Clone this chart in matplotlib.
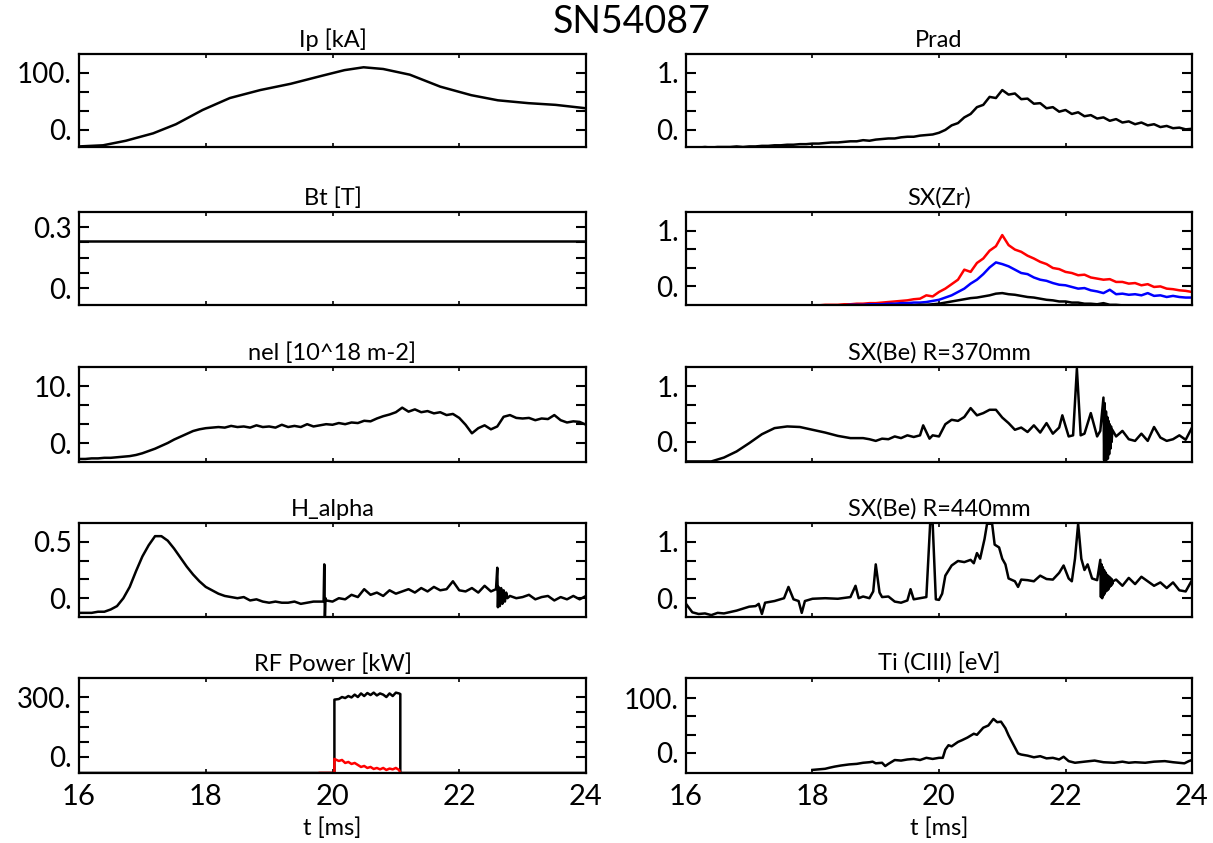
import numpy as np
import matplotlib.pyplot as plt

plt.rcParams['font.family'] = ['Lato', 'DejaVu Sans']

# common 0.1 ms sampling grid
t_grid = np.round(np.arange(16.0, 24.01, 0.1), 1)

## Ip [kA]
ip_t = [16.0, 16.38, 16.74, 17.17, 17.53, 17.95, 18.38, 18.86, 19.34, 19.83,
        20.19, 20.49, 20.80, 21.22, 21.70, 22.19, 22.61, 23.09, 23.52, 24.0]
ip_v = [-29, -27, -19, -6, 10, 35, 56, 70, 81, 95,
        105, 110, 107, 97, 76, 61, 52, 47, 44, 38]

## Bt [T]
bt_t = [16.0, 24.0]
bt_v = [0.231, 0.231]

## nel [10^18 m-2]
nel_v = [-2.8, -2.8, -2.7, -2.7, -2.6, -2.6, -2.5, -2.4, -2.3, -2.1,
         -1.8, -1.4, -1.0, -0.5, 0.0, 0.6, 1.1, 1.6, 2.1, 2.4,
         2.6, 2.7, 2.8, 2.7, 3.0, 2.8, 2.9, 2.7, 3.1, 2.8,
         2.9, 2.7, 3.2, 2.8, 3.0, 2.8, 3.3, 2.9, 3.1, 3.3,
         3.2, 3.5, 3.3, 3.6, 3.5, 3.9, 3.8, 4.3, 4.7, 5.0,
         5.4, 6.2, 5.5, 5.9, 5.4, 5.6, 5.2, 5.4, 4.9, 5.1,
         4.4, 3.2, 1.7, 2.6, 3.1, 2.4, 2.9, 4.6, 4.9, 4.4,
         4.3, 4.4, 4.0, 4.3, 4.2, 4.9, 4.0, 3.6, 3.8, 3.7,
         3.2]

## H_alpha
ha_t = [16.0, 16.1, 16.2, 16.3, 16.4, 16.5, 16.6, 16.7, 16.8, 16.9,
        17.0, 17.1, 17.2, 17.3, 17.4, 17.5, 17.6, 17.7, 17.8, 17.9,
        18.0, 18.1, 18.2, 18.3, 18.4, 18.5, 18.6, 18.7, 18.8, 18.9,
        19.0, 19.1, 19.2, 19.3, 19.4, 19.5, 19.6, 19.7, 19.8, 19.86,
        19.87, 19.88, 19.89, 19.9, 20.0, 20.1, 20.2, 20.3, 20.4, 20.5,
        20.6, 20.7, 20.8, 20.9, 21.0, 21.1, 21.2, 21.3, 21.4, 21.5,
        21.6, 21.7, 21.8, 21.9, 22.0, 22.1, 22.2, 22.3, 22.4, 22.5,
        22.58, 22.6, 22.61, 22.62, 22.64, 22.66, 22.68, 22.70, 22.72, 22.74,
        22.76, 22.8, 22.9, 23.0, 23.1, 23.2, 23.3, 23.4, 23.5, 23.6,
        23.7, 23.8, 23.9, 24.0]
ha_v = [-0.13, -0.13, -0.13, -0.12, -0.12, -0.10, -0.07, 0.00, 0.10, 0.24,
        0.37, 0.47, 0.55, 0.55, 0.51, 0.44, 0.36, 0.28, 0.21, 0.15,
        0.10, 0.07, 0.04, 0.02, 0.01, 0.00, 0.01, -0.02, -0.01, -0.03,
        -0.04, -0.03, -0.04, -0.04, -0.03, -0.05, -0.04, -0.03, -0.03, -0.03,
        0.30, -0.17, 0.00, -0.02, -0.03, 0.00, -0.01, 0.03, 0.01, 0.08,
        0.03, 0.05, 0.02, 0.07, 0.04, 0.06, 0.08, 0.05, 0.09, 0.06,
        0.10, 0.07, 0.08, 0.15, 0.07, 0.06, 0.09, 0.05, 0.11, 0.06,
        0.08, 0.27, -0.08, 0.10, -0.07, 0.09, -0.05, 0.07, -0.03, 0.05,
        0.00, 0.02, 0.00, 0.01, 0.03, -0.01, 0.01, 0.02, -0.02, 0.01,
        -0.01, 0.02, -0.01, 0.02]

## RF Power [kW]
rf_t = [16.0, 20.03, 20.03, 20.1, 20.15, 20.2, 20.25, 20.3, 20.35, 20.4,
        20.45, 20.5, 20.55, 20.6, 20.65, 20.7, 20.75, 20.8, 20.85, 20.9,
        20.95, 21.0, 21.05, 21.07, 21.07, 24.0]
rf_v = [-80, -80, 287, 290, 300, 295, 305, 298, 312, 300,
        318, 305, 320, 310, 322, 308, 318, 312, 300, 318,
        305, 322, 318, 315, -80, -80]
rf_red_t = [19.8, 20.03, 20.03, 20.1, 20.15, 20.2, 20.25, 20.3, 20.35, 20.4,
            20.45, 20.5, 20.55, 20.6, 20.65, 20.7, 20.75, 20.8, 20.85, 20.9,
            20.95, 21.0, 21.05, 21.07]
rf_red_v = [-80, -80, -10, -20, -15, -30, -25, -35, -30, -40,
            -50, -45, -55, -50, -60, -55, -62, -55, -65, -58,
            -62, -55, -65, -80]

## Prad
prad_v = [-0.31, -0.31, -0.31, -0.30, -0.31, -0.30, -0.30, -0.30, -0.29, -0.30,
          -0.29, -0.29, -0.28, -0.28, -0.27, -0.27, -0.26, -0.26, -0.25, -0.25,
          -0.24, -0.24, -0.23, -0.22, -0.22, -0.21, -0.20, -0.20, -0.18, -0.19,
          -0.17, -0.16, -0.15, -0.15, -0.13, -0.12, -0.12, -0.10, -0.09, -0.08,
          -0.05, 0.00, 0.08, 0.12, 0.22, 0.28, 0.40, 0.44, 0.58, 0.56,
          0.70, 0.62, 0.64, 0.54, 0.55, 0.46, 0.47, 0.38, 0.40, 0.32,
          0.35, 0.28, 0.31, 0.24, 0.26, 0.20, 0.22, 0.16, 0.19, 0.13,
          0.15, 0.10, 0.13, 0.08, 0.10, 0.05, 0.07, 0.03, 0.04, 0.01,
          0.02]

## SX(Zr): red, blue, black channels
zr_red = [-0.34] * 20 + [
    -0.34, -0.34, -0.33, -0.33, -0.33, -0.32, -0.32, -0.31, -0.31, -0.30,
    -0.30, -0.29, -0.28, -0.27, -0.26, -0.25, -0.23, -0.22, -0.16, -0.18,
    -0.10, -0.04, 0.04, 0.12, 0.30, 0.26, 0.42, 0.50, 0.64, 0.72,
    0.92, 0.74, 0.66, 0.62, 0.55, 0.50, 0.44, 0.40, 0.33, 0.31,
    0.26, 0.24, 0.20, 0.21, 0.16, 0.14, 0.12, 0.13, 0.08, 0.08,
    0.05, 0.06, 0.02, 0.04, -0.01, 0.00, -0.04, -0.05, -0.07, -0.08,
    -0.10]
zr_blue = [-0.34] * 25 + [
    -0.34, -0.33, -0.33, -0.33, -0.32,
    -0.32, -0.32, -0.31, -0.31, -0.30, -0.30, -0.29, -0.29, -0.28, -0.26,
    -0.24, -0.20, -0.16, -0.10, -0.04, 0.05, 0.12, 0.22, 0.34, 0.43,
    0.40, 0.36, 0.30, 0.24, 0.22, 0.16, 0.12, 0.10, 0.06, 0.03,
    0.02, -0.01, -0.04, -0.03, -0.07, -0.09, -0.12, -0.06, -0.14, -0.13,
    -0.15, -0.14, -0.16, -0.12, -0.17, -0.16, -0.19, -0.17, -0.19, -0.20,
    -0.20]
zr_black = [-0.34] * 35 + [
    -0.34, -0.34, -0.33, -0.33, -0.32,
    -0.31, -0.29, -0.27, -0.25, -0.23, -0.21, -0.20, -0.18, -0.16, -0.13,
    -0.12, -0.14, -0.15, -0.17, -0.19, -0.20, -0.22, -0.24, -0.25, -0.27,
    -0.27, -0.29, -0.29, -0.31, -0.31, -0.32, -0.30, -0.33, -0.33, -0.34,
    -0.34, -0.34, -0.34, -0.34, -0.34, -0.34, -0.34, -0.34, -0.34, -0.34,
    -0.34]

## SX(Be) R=370mm
be370_t = [16.0, 16.4, 16.6, 16.8, 17.0, 17.2, 17.4, 17.6, 17.8, 18.0,
           18.2, 18.4, 18.6, 18.8, 18.9, 19.0, 19.1, 19.2, 19.3, 19.4,
           19.5, 19.6, 19.7, 19.75, 19.8, 19.85, 19.9, 20.0, 20.1, 20.2,
           20.3, 20.4, 20.5, 20.6, 20.7, 20.8, 20.9, 21.0, 21.1, 21.2,
           21.3, 21.4, 21.5, 21.6, 21.7, 21.8, 21.9, 21.95, 22.05, 22.12,
           22.18, 22.24, 22.3, 22.4, 22.5, 22.55,
           22.60, 22.61, 22.62, 22.63, 22.64, 22.65, 22.66, 22.67, 22.68, 22.69,
           22.70, 22.71, 22.72, 22.73, 22.74,
           22.8, 22.9, 23.0, 23.1, 23.2, 23.3, 23.4, 23.5, 23.6, 23.7,
           23.8, 23.9, 24.0]
be370_v = [-0.35, -0.35, -0.28, -0.17, -0.02, 0.14, 0.25, 0.28, 0.27, 0.22,
           0.17, 0.11, 0.07, 0.07, 0.05, 0.02, 0.06, 0.05, 0.10, 0.07,
           0.12, 0.09, 0.12, 0.30, 0.18, 0.06, 0.12, 0.10, 0.32, 0.40,
           0.38, 0.45, 0.61, 0.48, 0.52, 0.58, 0.58, 0.44, 0.34, 0.22,
           0.26, 0.18, 0.30, 0.17, 0.34, 0.15, 0.26, 0.48, 0.10, 0.12,
           1.32, 0.12, 0.15, 0.52, 0.10, 0.20,
           0.80, -0.33, 0.70, -0.34, 0.55, -0.32, 0.45, -0.30, 0.38, -0.22,
           0.32, -0.12, 0.28, 0.00, 0.22,
           0.10, 0.20, 0.05, 0.02, 0.15, 0.02, 0.27, 0.08, 0.02, 0.05,
           0.12, 0.04, 0.26]

## SX(Be) R=440mm
be440_t = [16.0, 16.1, 16.2, 16.3, 16.4, 16.5, 16.6, 16.8, 17.0, 17.1,
           17.15, 17.2, 17.25, 17.4, 17.55, 17.62, 17.7, 17.78, 17.83, 17.88,
           18.0, 18.2, 18.4, 18.6, 18.68, 18.73, 18.8, 18.9, 18.96, 19.0,
           19.06, 19.1, 19.2, 19.3, 19.4, 19.5, 19.55, 19.6, 19.7, 19.8,
           19.86, 19.9, 19.95, 20.0, 20.05, 20.1, 20.2, 20.3, 20.4, 20.5,
           20.55, 20.6, 20.65, 20.72, 20.76, 20.84, 20.88, 20.95, 21.0, 21.05,
           21.1, 21.2, 21.25, 21.3, 21.4, 21.5, 21.6, 21.7, 21.8, 21.9,
           21.97, 22.05, 22.1, 22.15, 22.2, 22.25, 22.3, 22.35, 22.42, 22.5,
           22.55, 22.56, 22.57, 22.58, 22.59, 22.60, 22.61, 22.62, 22.63, 22.64,
           22.65, 22.66, 22.67, 22.68, 22.69, 22.70, 22.71, 22.72, 22.73, 22.74,
           22.75,
           22.8, 22.9, 23.0, 23.1, 23.2, 23.3, 23.4, 23.5, 23.6, 23.7,
           23.8, 23.9, 24.0]
be440_v = [-0.10, -0.25, -0.28, -0.27, -0.30, -0.26, -0.27, -0.22, -0.15, -0.14,
           -0.10, -0.28, -0.08, -0.05, 0.00, 0.20, -0.02, -0.05, -0.26, -0.05,
           -0.01, 0.00, -0.01, 0.02, 0.22, 0.00, 0.03, 0.00, 0.12, 0.60,
           0.10, 0.02, 0.03, -0.06, -0.08, -0.04, 0.16, -0.02, 0.00, 0.02,
           1.32, 1.32, -0.02, -0.03, 0.08, 0.40, 0.58, 0.66, 0.64, 0.68,
           0.62, 0.80, 0.70, 1.05, 1.32, 1.32, 0.95, 0.90, 0.70, 0.60,
           0.35, 0.30, 0.20, 0.33, 0.32, 0.30, 0.40, 0.34, 0.33, 0.45,
           0.58, 0.35, 0.30, 0.70, 1.32, 0.70, 0.50, 0.60, 0.35, 0.32,
           0.68, 0.02, 0.60, 0.00, 0.55, 0.05, 0.50, 0.08, 0.46, 0.12,
           0.42, 0.14, 0.40, 0.16, 0.38, 0.20, 0.36, 0.22, 0.34, 0.25,
           0.30,
           0.33, 0.22, 0.36, 0.25, 0.38, 0.30, 0.22, 0.28, 0.18, 0.28,
           0.14, 0.12, 0.32]

## Ti (CIII) [eV]
ti_t = [18.0, 18.1, 18.2, 18.27, 18.35, 18.45, 18.58, 18.7, 18.8, 18.9,
        18.95, 19.0, 19.1, 19.15, 19.2, 19.3, 19.4, 19.5, 19.6, 19.7,
        19.8, 19.9, 20.0, 20.06, 20.1, 20.15, 20.2, 20.3, 20.36, 20.45,
        20.55, 20.6, 20.7, 20.78, 20.86, 20.92, 20.98, 21.05, 21.1, 21.2,
        21.25, 21.3, 21.4, 21.5, 21.6, 21.7, 21.8, 21.9, 21.97, 22.05,
        22.15, 22.3, 22.46, 22.6, 22.77, 22.9, 23.0, 23.1, 23.26, 23.4,
        23.57, 23.7, 23.88, 23.95, 24.0]
ti_v = [-31, -30, -29, -27, -25, -23, -21, -20, -18, -17,
        -16, -19, -18, -24, -20, -13, -14, -12, -11, -13,
        -9, -11, -9, -9, 6, 14, 12, 20, 23, 28,
        35, 33, 46, 50, 62, 56, 57, 45, 32, 10,
        -1, -3, -5, -8, -6, -10, -9, -12, -7, -15,
        -18, -16, -14, -17, -18, -16, -18, -17, -18, -16,
        -15, -17, -19, -15, -13]

x_ticks = [16, 18, 20, 22, 24]

fig = plt.figure(figsize=(12.13, 8.43), dpi=100)
W, H = 1213, 843
rows_px = [(54, 147), (212, 305), (367, 462), (523, 617), (678, 773)]
cols_px = [(79, 586), (686, 1192)]


def panel(col, row, title, step, labels, lo, hi, bottom=False):
    x0, x1 = cols_px[col]
    y0, y1 = rows_px[row]
    ax = fig.add_axes([x0 / W, 1 - y1 / H, (x1 - x0) / W, (y1 - y0) / H])
    n = len(labels)
    ax.set_xlim(16, 24)
    ax.set_ylim(lo * step, hi * step)
    ax.set_yticks([i * step for i in range(n)])
    ax.set_yticklabels(labels)
    ax.set_xticks(x_ticks)
    if bottom:
        ax.set_xticklabels([str(v) for v in x_ticks])
    else:
        ax.set_xticklabels([])
    ax.tick_params(axis="y", direction="in", left=True, right=True,
                   length=7, width=1.5, labelsize=20, pad=5)
    ax.tick_params(axis="x", direction="in", top=True, bottom=True,
                   length=3, width=1.2, labelsize=21, pad=8)
    for s in ax.spines.values():
        s.set_linewidth(1.6)
    ax.set_title(title, fontsize=17, pad=5)
    return ax


lw = 1.8

ax = panel(0, 0, "Ip [kA]", 100 / 3, ["0.", "", "", "100."], -0.9, 4.0)
ax.plot(ip_t, ip_v, color="black", lw=lw)

ax = panel(0, 1, "Bt [T]", 0.075, ["0.", "", "", "", "0.3"], -1.1, 5.0)
ax.plot(bt_t, bt_v, color="black", lw=lw)

ax = panel(0, 2, "nel [10^18 m-2]", 10 / 3, ["0.", "", "", "10."], -1.0, 4.0)
ax.plot(t_grid, nel_v, color="black", lw=lw)

ax = panel(0, 3, "H_alpha", 0.5 / 3, ["0.", "", "", "0.5"], -1.0, 4.0)
ax.plot(ha_t, ha_v, color="black", lw=lw)

ax = panel(0, 4, "RF Power [kW]", 75, ["0.", "", "", "", "300."], -1.07, 5.27, bottom=True)
ax.plot(rf_t, rf_v, color="black", lw=lw)
ax.plot(rf_red_t, rf_red_v, color="red", lw=lw)

ax = panel(1, 0, "Prad", 1 / 3, ["0.", "", "", "1."], -0.9, 4.0)
ax.plot(t_grid, prad_v, color="black", lw=lw)

ax = panel(1, 1, "SX(Zr)", 1 / 3, ["0.", "", "", "1."], -1.0, 4.0)
ax.plot(t_grid, zr_red, color="red", lw=lw)
ax.plot(t_grid, zr_blue, color="blue", lw=lw)
ax.plot(t_grid, zr_black, color="black", lw=lw)

ax = panel(1, 2, "SX(Be) R=370mm", 1 / 3, ["0.", "", "", "1."], -1.08, 4.05)
ax.plot(be370_t, be370_v, color="black", lw=lw)

ax = panel(1, 3, "SX(Be) R=440mm", 1 / 3, ["0.", "", "", "1."], -1.0, 4.0)
ax.plot(be440_t, be440_v, color="black", lw=lw)

ax = panel(1, 4, "Ti (CIII) [eV]", 100 / 3, ["0.", "", "", "100."], -1.1, 4.1, bottom=True)
ax.plot(ti_t, ti_v, color="black", lw=lw)

fig.text(632 / W, 1 - 22 / H, "SN54087", fontsize=27, ha="center", va="center")
fig.text((79 + 586) / 2 / W, 1 - 828 / H, "t [ms]", fontsize=17, ha="center", va="center")
fig.text((686 + 1192) / 2 / W, 1 - 828 / H, "t [ms]", fontsize=17, ha="center", va="center")

plt.savefig("out.png", dpi=100)
